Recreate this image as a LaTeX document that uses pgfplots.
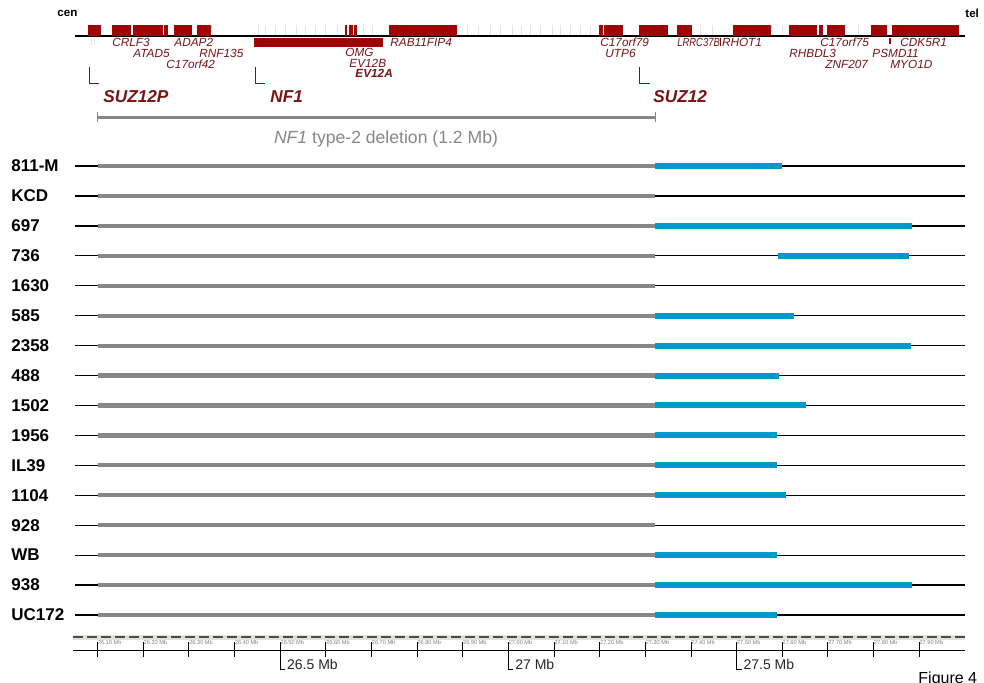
\documentclass[border=0pt]{standalone}
\usepackage{pgfplots}
\pgfplotsset{compat=1.18}
\usepackage{fontspec}
\setmainfont{Liberation Sans}
\definecolor{genered}{RGB}{158,6,6}
\definecolor{labred}{RGB}{120,20,20}
\definecolor{delgray}{RGB}{135,135,135}
\definecolor{dupblue}{RGB}{0,153,204}
\definecolor{thin}{RGB}{50,50,50}
\definecolor{band}{RGB}{226,226,214}
\begin{document}
\begin{tikzpicture}
\begin{axis}[
  scale only axis, width=492pt, height=341pt,
  xmin=25.88593, xmax=28.04197, ymin=0, ymax=682, y dir=reverse,
  hide axis, clip=false, unbounded coords=jump,
  every axis plot/.append style={line cap=butt},
]
% ---------- gene track ----------
\addplot[gray!22, line width=0.3pt] coordinates {
(26.4513,25)(26.4513,36)(nan,nan)(26.4666,25)(26.4666,36)(nan,nan)(26.4885,25)(26.4885,36)(nan,nan)
(26.5104,25)(26.5104,36)(nan,nan)(26.5345,25)(26.5345,36)(nan,nan)(26.5542,25)(26.5542,36)(nan,nan)
(26.5761,25)(26.5761,36)(nan,nan)(26.5980,25)(26.5980,36)(nan,nan)(26.6243,25)(26.6243,36)(nan,nan)
(26.6813,25)(26.6813,36)(nan,nan)(26.7010,25)(26.7010,36)(nan,nan)(26.9092,25)(26.9092,36)(nan,nan)
(26.9333,25)(26.9333,36)(nan,nan)(26.9596,25)(26.9596,36)(nan,nan)(26.9815,25)(26.9815,36)(nan,nan)
(27.0078,25)(27.0078,36)(nan,nan)(27.0275,25)(27.0275,36)(nan,nan)(27.0472,25)(27.0472,36)(nan,nan)
(27.0691,25)(27.0691,36)(nan,nan)(27.0954,25)(27.0954,36)(nan,nan)(27.1129,25)(27.1129,36)(nan,nan)
(27.1348,25)(27.1348,36)(nan,nan)(27.1568,25)(27.1568,36)(nan,nan)(27.1787,25)(27.1787,36)(nan,nan)
(27.4197,25)(27.4197,36)(nan,nan)(27.4460,25)(27.4460,36)(nan,nan)(27.6001,25)(27.6001,36)(nan,nan)
(27.7655,25)(27.7655,36)(nan,nan)(27.8534,25)(27.8534,36)(nan,nan)(26.0864,36)(26.0864,45)(nan,nan)
(26.0930,36)(26.0930,45)
};
\addplot[thin, line width=0.6pt] coordinates {(26.0503,36) (28.0003,36)};
\addplot[fill=genered, draw=none] coordinates {(26.0781,25)(26.1066,25)(26.1066,36)(26.0781,36)} --cycle;
\addplot[fill=genered, draw=none] coordinates {(26.1307,25)(26.1730,25)(26.1730,36)(26.1307,36)} --cycle;
\addplot[fill=genered, draw=none] coordinates {(26.1780,25)(26.2437,25)(26.2437,36)(26.1780,36)} --cycle;
\addplot[fill=genered, draw=none] coordinates {(26.2459,25)(26.2534,25)(26.2534,36)(26.2459,36)} --cycle;
\addplot[fill=genered, draw=none] coordinates {(26.2678,25)(26.3073,25)(26.3073,36)(26.2678,36)} --cycle;
\addplot[fill=genered, draw=none] coordinates {(26.3182,25)(26.3476,25)(26.3476,36)(26.3182,36)} --cycle;
\addplot[fill=genered, draw=none] coordinates {(26.6419,25)(26.6469,25)(26.6469,36)(26.6419,36)} --cycle;
\addplot[fill=genered, draw=none] coordinates {(26.6513,25)(26.6587,25)(26.6587,36)(26.6513,36)} --cycle;
\addplot[fill=genered, draw=none] coordinates {(26.6616,25)(26.6688,25)(26.6688,36)(26.6616,36)} --cycle;
\addplot[fill=genered, draw=none] coordinates {(26.7389,25)(26.8866,25)(26.8866,36)(26.7389,36)} --cycle;
\addplot[fill=genered, draw=none] coordinates {(27.1991,25)(27.2078,25)(27.2078,36)(27.1991,36)} --cycle;
\addplot[fill=genered, draw=none] coordinates {(27.2094,25)(27.2503,25)(27.2503,36)(27.2094,36)} --cycle;
\addplot[fill=genered, draw=none] coordinates {(27.2867,25)(27.3502,25)(27.3502,36)(27.2867,36)} --cycle;
\addplot[fill=genered, draw=none] coordinates {(27.3700,25)(27.4028,25)(27.4028,36)(27.3700,36)} --cycle;
\addplot[fill=genered, draw=none] coordinates {(27.4914,25)(27.5753,25)(27.5753,36)(27.4914,36)} --cycle;
\addplot[fill=genered, draw=none] coordinates {(27.6154,25)(27.6754,25)(27.6754,36)(27.6154,36)} --cycle;
\addplot[fill=genered, draw=none] coordinates {(27.6811,25)(27.6899,25)(27.6899,36)(27.6811,36)} --cycle;
\addplot[fill=genered, draw=none] coordinates {(27.6986,25)(27.7374,25)(27.7374,36)(27.6986,36)} --cycle;
\addplot[fill=genered, draw=none] coordinates {(27.7937,25)(27.8288,25)(27.8288,36)(27.7937,36)} --cycle;
\addplot[fill=genered, draw=none] coordinates {(27.8410,25)(27.9879,25)(27.9879,36)(27.8410,36)} --cycle;
% NF1 box below the line
\addplot[fill=genered, draw=none] coordinates {(26.4425,37.5)(26.7258,37.5)(26.7258,46.5)(26.4425,46.5)} --cycle;
\addplot[genered, line width=1pt] coordinates {(27.8366,38)(27.8366,44)};
\addplot[labred, line width=0.5pt] coordinates {(27.4640,37.5)(27.4640,46)};
% gene labels
\begin{scope}[every node/.style={anchor=west, inner sep=0pt, text=labred, font=\fontsize{5.9}{6}\selectfont\itshape}]
\node at (axis cs:26.1313,42) {CRLF3};
\node at (axis cs:26.2672,42) {ADAP2};
\node at (axis cs:26.1773,53) {ATAD5};
\node at (axis cs:26.3220,53) {RNF135};
\node at (axis cs:26.2497,64) {C17orf42};
\node at (axis cs:26.6419,52) {OMG};
\node at (axis cs:26.6507,63) {EV12B};
\node[font=\fontsize{5.9}{6}\selectfont\bfseries\itshape] at (axis cs:26.6638,73.5) {EV12A};
\node at (axis cs:26.7405,42) {RAB11FIP4};
\node at (axis cs:27.2006,42) {C17orf79};
\node at (axis cs:27.2116,53) {UTP6};
\node[xscale=0.8] at (axis cs:27.3693,42) {LRRC37B};
\node at (axis cs:27.4670,42) {RHOT1};
\node at (axis cs:27.6826,42) {C17orf75};
\node at (axis cs:27.6147,53) {RHBDL3};
\node at (axis cs:27.6936,64) {ZNF207};
\node at (axis cs:27.8579,42) {CDK5R1};
\node at (axis cs:27.7966,53) {PSMD11};
\node at (axis cs:27.8360,64) {MYO1D};
\end{scope}
\node[anchor=west, inner sep=0pt, font=\fontsize{5.8}{6}\selectfont\bfseries] at (axis cs:26.0108,13) {cen};
\node[anchor=west, inner sep=0pt, font=\fontsize{5.8}{6}\selectfont\bfseries] at (axis cs:28.0003,13) {tel};
% brackets and key genes
\addplot[labred, line width=0.5pt] coordinates {(26.0820,67)(26.0820,83)(26.1029,83)};
\addplot[labred, line width=0.5pt] coordinates {(26.4447,67)(26.4447,83)(26.4666,83)};
\addplot[labred, line width=0.5pt] coordinates {(27.2882,67)(27.2882,83)(27.3101,83)};
\begin{scope}[every node/.style={anchor=west, inner sep=0pt, text=labred, font=\fontsize{8.6}{9}\selectfont\bfseries\itshape}]
\node at (axis cs:26.1116,97) {SUZ12P};
\node at (axis cs:26.4775,97) {NF1};
\node at (axis cs:27.3167,97) {SUZ12};
\end{scope}
% deletion bar
\addplot[delgray, line width=1.5pt] coordinates {(26.1,117)(27.3217,117)};
\addplot[delgray, line width=0.4pt] coordinates {(26.1,112)(26.1,122)(nan,nan)(27.3217,112)(27.3217,122)};
\node[inner sep=0pt, text=delgray, font=\fontsize{8.8}{9}\selectfont] at (axis cs:26.7317,139) {\textit{NF1} type-2 deletion (1.2 Mb)};
% ---------- samples ----------
\addplot[thin, line width=0.6pt] coordinates {
(26.0503,166.0)(28.0003,166.0)(nan,nan)(26.0503,195.9)(28.0003,195.9)(nan,nan)
(26.0503,225.9)(28.0003,225.9)(nan,nan)(26.0503,255.8)(28.0003,255.8)(nan,nan)
(26.0503,285.7)(28.0003,285.7)(nan,nan)(26.0503,315.7)(28.0003,315.7)(nan,nan)
(26.0503,345.6)(28.0003,345.6)(nan,nan)(26.0503,375.5)(28.0003,375.5)(nan,nan)
(26.0503,405.4)(28.0003,405.4)(nan,nan)(26.0503,435.4)(28.0003,435.4)(nan,nan)
(26.0503,465.3)(28.0003,465.3)(nan,nan)(26.0503,495.2)(28.0003,495.2)(nan,nan)
(26.0503,525.2)(28.0003,525.2)(nan,nan)(26.0503,555.1)(28.0003,555.1)(nan,nan)
(26.0503,585.0)(28.0003,585.0)(nan,nan)(26.0503,615.0)(28.0003,615.0)
};
\addplot[delgray, line width=2.1pt] coordinates {
(26.1,166.0)(27.3217,166.0)(nan,nan)(26.1,195.9)(27.3217,195.9)(nan,nan)
(26.1,225.9)(27.3217,225.9)(nan,nan)(26.1,255.8)(27.3217,255.8)(nan,nan)
(26.1,285.7)(27.3217,285.7)(nan,nan)(26.1,315.7)(27.3217,315.7)(nan,nan)
(26.1,345.6)(27.3217,345.6)(nan,nan)(26.1,375.5)(27.3217,375.5)(nan,nan)
(26.1,405.4)(27.3217,405.4)(nan,nan)(26.1,435.4)(27.3217,435.4)(nan,nan)
(26.1,465.3)(27.3217,465.3)(nan,nan)(26.1,495.2)(27.3217,495.2)(nan,nan)
(26.1,525.2)(27.3217,525.2)(nan,nan)(26.1,555.1)(27.3217,555.1)(nan,nan)
(26.1,585.0)(27.3217,585.0)(nan,nan)(26.1,615.0)(27.3217,615.0)
};
\addplot[dupblue, line width=3pt] coordinates {
(27.3217,166.0)(27.5987,166.0)(nan,nan)
(27.3217,225.9)(27.8848,225.9)(nan,nan)
(27.5899,255.8)(27.8783,255.8)(nan,nan)
(27.3217,315.7)(27.6256,315.7)(nan,nan)
(27.3217,345.6)(27.8820,345.6)(nan,nan)
(27.3217,375.5)(27.5933,375.5)(nan,nan)
(27.3217,405.4)(27.6513,405.4)(nan,nan)
(27.3217,435.4)(27.5890,435.4)(nan,nan)
(27.3217,465.3)(27.5890,465.3)(nan,nan)
(27.3217,495.2)(27.6074,495.2)(nan,nan)
(27.3217,555.1)(27.5890,555.1)(nan,nan)
(27.3217,585.0)(27.8848,585.0)(nan,nan)
(27.3217,615.0)(27.5890,615.0)
};
\begin{scope}[every node/.style={anchor=west, inner sep=0pt, font=\fontsize{8.5}{9}\selectfont\bfseries}]
\node at (axis cs:25.910,166.0) {811-M};
\node at (axis cs:25.910,195.9) {KCD};
\node at (axis cs:25.910,225.9) {697};
\node at (axis cs:25.910,255.8) {736};
\node at (axis cs:25.910,285.7) {1630};
\node at (axis cs:25.910,315.7) {585};
\node at (axis cs:25.910,345.6) {2358};
\node at (axis cs:25.910,375.5) {488};
\node at (axis cs:25.910,405.4) {1502};
\node at (axis cs:25.910,435.4) {1956};
\node at (axis cs:25.910,465.3) {IL39};
\node at (axis cs:25.910,495.2) {1104};
\node at (axis cs:25.910,525.2) {928};
\node at (axis cs:25.910,555.1) {WB};
\node at (axis cs:25.910,585.0) {938};
\node at (axis cs:25.910,615.0) {UC172};
\end{scope}
% ---------- ruler ----------
\addplot[band, line width=2.6pt] coordinates {(26.0459,637.5)(28.0003,637.5)};
\addplot[black!70, line width=0.9pt, dash pattern=on 5pt off 2pt] coordinates {(26.0459,636.8)(28.0003,636.8)};
\addplot[thin, line width=0.6pt] coordinates {(26.0459,650.7)(28.0003,650.7)};
\addplot[thin, line width=0.5pt] coordinates {
(26.1,642)(26.1,657)(nan,nan)(26.2,642)(26.2,657)(nan,nan)(26.3,642)(26.3,657)(nan,nan)
(26.4,642)(26.4,657)(nan,nan)(26.5,642)(26.5,651)(nan,nan)(26.6,642)(26.6,657)(nan,nan)
(26.7,642)(26.7,657)(nan,nan)(26.8,642)(26.8,657)(nan,nan)(26.9,642)(26.9,657)(nan,nan)
(27.0,642)(27.0,651)(nan,nan)(27.1,642)(27.1,657)(nan,nan)(27.2,642)(27.2,657)(nan,nan)
(27.3,642)(27.3,657)(nan,nan)(27.4,642)(27.4,657)(nan,nan)(27.5,642)(27.5,651)(nan,nan)
(27.6,642)(27.6,657)(nan,nan)(27.7,642)(27.7,657)(nan,nan)(27.8,642)(27.8,657)(nan,nan)
(27.9,642)(27.9,657)
};
\begin{scope}[every node/.style={anchor=west, inner sep=0pt, text=gray, font=\fontsize{2.8}{3}\selectfont}]
\node at (axis cs:26.1,642.5) {26.10 Mb};
\node at (axis cs:26.2,642.5) {26.20 Mb};
\node at (axis cs:26.3,642.5) {26.30 Mb};
\node at (axis cs:26.4,642.5) {26.40 Mb};
\node at (axis cs:26.5,642.5) {26.50 Mb};
\node at (axis cs:26.6,642.5) {26.60 Mb};
\node at (axis cs:26.7,642.5) {26.70 Mb};
\node at (axis cs:26.8,642.5) {26.80 Mb};
\node at (axis cs:26.9,642.5) {26.90 Mb};
\node at (axis cs:27.0,642.5) {27.00 Mb};
\node at (axis cs:27.1,642.5) {27.10 Mb};
\node at (axis cs:27.2,642.5) {27.20 Mb};
\node at (axis cs:27.3,642.5) {27.30 Mb};
\node at (axis cs:27.4,642.5) {27.40 Mb};
\node at (axis cs:27.5,642.5) {27.50 Mb};
\node at (axis cs:27.6,642.5) {27.60 Mb};
\node at (axis cs:27.7,642.5) {27.70 Mb};
\node at (axis cs:27.8,642.5) {27.80 Mb};
\node at (axis cs:27.9,642.5) {27.90 Mb};
\end{scope}
\addplot[thin, line width=0.6pt] coordinates {
(26.5,651)(26.5,669.5)(26.5110,669.5)(nan,nan)
(27.0,651)(27.0,669.5)(27.0110,669.5)(nan,nan)
(27.5,651)(27.5,669.5)(27.5110,669.5)};
\begin{scope}[every node/.style={anchor=west, inner sep=0pt, text=black!85, font=\fontsize{7}{8}\selectfont}]
\node at (axis cs:26.5142,664.5) {26.5 Mb};
\node at (axis cs:27.0142,664.5) {27 Mb};
\node at (axis cs:27.5142,664.5) {27.5 Mb};
\end{scope}
\node[anchor=west, inner sep=0pt, font=\fontsize{8}{9}\selectfont] at (axis cs:27.8974,679) {Figure 4};
\end{axis}
\pgfresetboundingbox
\useasboundingbox (current axis.south west) rectangle (current axis.north east);
\end{tikzpicture}
\end{document}
